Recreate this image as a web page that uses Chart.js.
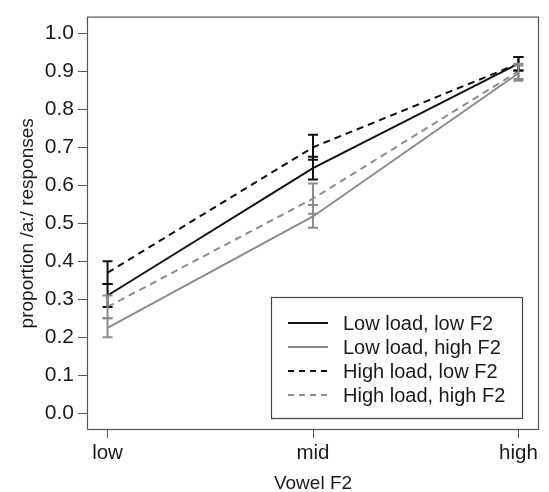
<!DOCTYPE html>
<html lang="en">
<head>
  <meta charset="UTF-8" />
  <title>Vowel F2</title>
  <script src="https://cdn.jsdelivr.net/npm/chart.js"></script>
  <style>
    html, body { margin: 0; padding: 0; background: #fff; }
    #wrap { width: 549px; height: 492px; }
  </style>
</head>
<body>
<div id="wrap"><canvas id="chart" width="549" height="492"></canvas></div>
<script>
  const categories = ['low', 'mid', 'high'];
  const yTicks = [0.0, 0.1, 0.2, 0.3, 0.4, 0.5, 0.6, 0.7, 0.8, 0.9, 1.0];

  const lowLoadLowF2 = [0.31, 0.645, 0.92];
  const lowLoadLowF2Err = [0.03, 0.03, 0.018];
  const lowLoadHighF2 = [0.225, 0.518, 0.895];
  const lowLoadHighF2Err = [0.025, 0.03, 0.02];
  const highLoadLowF2 = [0.37, 0.70, 0.92];
  const highLoadLowF2Err = [0.03, 0.033, 0.018];
  const highLoadHighF2 = [0.28, 0.565, 0.90];
  const highLoadHighF2Err = [0.03, 0.04, 0.02];

  const FONT = "'Liberation Sans', Arial, sans-serif";
  const TXT = '#1a1a1a';
  const BLACK = '#111';
  const GREY = '#8c8c8c';

  function pts(vals) { return vals.map((v, i) => ({ x: i, y: v })); }

  const series = [
    { label: 'Low load, low F2', data: lowLoadLowF2, err: lowLoadLowF2Err, color: BLACK, dash: [] },
    { label: 'Low load, high F2', data: lowLoadHighF2, err: lowLoadHighF2Err, color: GREY, dash: [] },
    { label: 'High load, low F2', data: highLoadLowF2, err: highLoadLowF2Err, color: BLACK, dash: [7, 5] },
    { label: 'High load, high F2', data: highLoadHighF2, err: highLoadHighF2Err, color: GREY, dash: [7, 5] }
  ];

  // error bars + frame + legend
  const extras = {
    id: 'extras',
    afterDatasetsDraw(chart) {
      const ctx = chart.ctx, xs = chart.scales.x, ys = chart.scales.y, a = chart.chartArea;
      ctx.save();
      series.forEach(s => {
        ctx.strokeStyle = s.color;
        ctx.lineWidth = 2;
        ctx.setLineDash([]);
        s.data.forEach((v, i) => {
          const x = xs.getPixelForValue(i);
          const y1 = ys.getPixelForValue(v + s.err[i]);
          const y2 = ys.getPixelForValue(v - s.err[i]);
          ctx.beginPath();
          ctx.moveTo(x, y1); ctx.lineTo(x, y2);
          ctx.moveTo(x - 5, y1); ctx.lineTo(x + 5, y1);
          ctx.moveTo(x - 5, y2); ctx.lineTo(x + 5, y2);
          ctx.stroke();
        });
      });

      // plot frame
      ctx.strokeStyle = '#555';
      ctx.lineWidth = 1.2;
      ctx.strokeRect(a.left + 0.5, a.top + 0.5, a.right - a.left - 1, a.bottom - a.top - 1);

      // legend
      const lx = 271, ly = 297, lw = 251, lh = 121;
      ctx.fillStyle = '#fff';
      ctx.fillRect(lx, ly, lw, lh);
      ctx.strokeStyle = '#444';
      ctx.lineWidth = 1.2;
      ctx.strokeRect(lx + 0.5, ly + 0.5, lw, lh);
      ctx.font = '20px ' + FONT;
      ctx.textBaseline = 'middle';
      ctx.textAlign = 'left';
      series.forEach((s, i) => {
        const y = ly + 26 + i * 24;
        ctx.strokeStyle = s.color;
        ctx.lineWidth = 2;
        ctx.setLineDash(s.dash.length ? [6, 5] : []);
        ctx.beginPath();
        ctx.moveTo(288, y); ctx.lineTo(328, y);
        ctx.stroke();
        ctx.fillStyle = TXT;
        ctx.fillText(s.label, 343, y + 1);
      });
      ctx.restore();
    }
  };

  new Chart(document.getElementById('chart'), {
    type: 'line',
    data: {
      datasets: series.map(s => ({
        label: s.label,
        data: pts(s.data),
        borderColor: s.color,
        borderDash: s.dash,
        borderWidth: 2,
        pointRadius: 0,
        fill: false,
        tension: 0
      }))
    },
    options: {
      responsive: false,
      animation: false,
      layout: { padding: { top: 8, right: 10, left: 0, bottom: 0 } },
      plugins: { legend: { display: false }, tooltip: { enabled: false } },
      scales: {
        x: {
          type: 'linear',
          min: -0.1, max: 2.1,
          afterBuildTicks: sc => { sc.ticks = categories.map((c, i) => ({ value: i })); },
          afterFit: sc => { sc.height = 62; },
          ticks: {
            callback: v => categories[v],
            color: TXT, font: { family: FONT, size: 20.5 }, padding: 3, maxRotation: 0
          },
          grid: { drawOnChartArea: false, tickLength: 8, color: '#555' },
          border: { display: false },
          title: { display: true, text: 'Vowel F2', color: TXT, font: { family: FONT, size: 19, lineHeight: 0.9 }, padding: { top: 0, bottom: 0 } }
        },
        y: {
          min: -0.044, max: 1.044,
          afterBuildTicks: sc => { sc.ticks = yTicks.map(v => ({ value: v })); },
          afterFit: sc => { sc.width = 87; },
          ticks: {
            callback: v => v.toFixed(1),
            color: TXT, font: { family: FONT, size: 21 }, padding: 4
          },
          grid: { drawOnChartArea: false, tickLength: 9, color: '#555' },
          border: { display: false },
          title: { display: true, text: 'proportion /a:/ responses', color: TXT, font: { family: FONT, size: 19 }, padding: { top: 16, bottom: 0 } }
        }
      }
    },
    plugins: [extras]
  });
</script>
</body>
</html>
